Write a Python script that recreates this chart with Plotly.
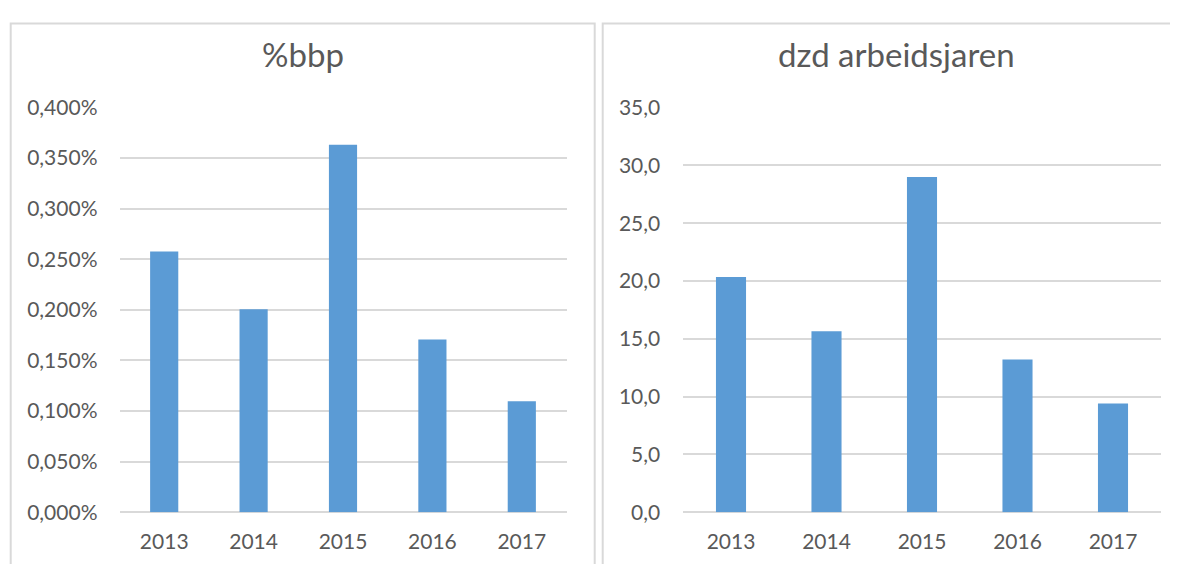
import plotly.graph_objects as go

years = ["2013", "2014", "2015", "2016", "2017"]
bbp_pct = [0.2577, 0.2006, 0.3633, 0.1708, 0.1096]
dzd_arbeidsjaren = [20.35, 15.65, 28.99, 13.2, 9.39]

# page body has an 8px margin; vertical placement was calibrated on the photo
OFF = 8
W, H = 1178 - 2 * OFF, 570
VS, VO = 0.955, 13.5
bar_color = "#5b9bd5"
text_color = "#595959"
grid_color = "#d9d9d9"
font_family = "Lato, 'Open Sans', sans-serif"

# helpers: target pixel in the picture -> paper coordinate
def px_x(v):
    return (v - OFF) / W

def px_y(v):
    fy = (v - VO) / VS - OFF
    return (H - fy) / H

fig = go.Figure()
fig.add_trace(go.Bar(x=years, y=bbp_pct, marker_color=bar_color,
                     marker_line_width=0, xaxis="x", yaxis="y", showlegend=False))
fig.add_trace(go.Bar(x=years, y=dzd_arbeidsjaren, marker_color=bar_color,
                     marker_line_width=0, xaxis="x2", yaxis="y2", showlegend=False))

ydom = [px_y(510.7), px_y(106.6)]
axis_font = dict(family=font_family, size=21, color=text_color)

fig.update_layout(
    width=W, height=H,
    margin=dict(l=0, r=0, t=0, b=0),
    paper_bgcolor="white", plot_bgcolor="white",
    separators=",.",
    bargap=0.685,
    font=dict(family=font_family, color=text_color),
    xaxis=dict(domain=[px_x(119.5), px_x(566.5)], anchor="y",
               showgrid=False, showline=False, ticks="", tickfont=axis_font,
               ticklabelstandoff=15),
    yaxis=dict(domain=ydom, anchor="x", range=[0, 0.4], dtick=0.05,
               tickformat=".3f", ticksuffix="%", showgrid=True,
               gridcolor=grid_color, gridwidth=1.5, zeroline=True,
               zerolinecolor=grid_color, zerolinewidth=1.5, showline=False,
               ticks="", tickfont=axis_font, ticklabelstandoff=21),
    xaxis2=dict(domain=[px_x(683.25), px_x(1160.75)], anchor="y2",
                showgrid=False, showline=False, ticks="", tickfont=axis_font,
                ticklabelstandoff=15),
    yaxis2=dict(domain=ydom, anchor="x2", range=[0, 35], dtick=5,
                tickformat=".1f", showgrid=True, gridcolor=grid_color,
                gridwidth=1.5, zeroline=True, zerolinecolor=grid_color,
                zerolinewidth=1.5, showline=False, ticks="", tickfont=axis_font,
                ticklabelstandoff=22),
)

# chart area borders (top edge kept just inside the figure)
border = dict(color=grid_color, width=2)
top = 1 - 1.5 / H
fig.add_shape(type="rect", xref="paper", yref="paper",
              x0=px_x(10.7), x1=px_x(594.7), y0=-0.2, y1=top,
              line=border, layer="below")
fig.add_shape(type="rect", xref="paper", yref="paper",
              x0=px_x(602.7), x1=px_x(1200), y0=-0.2, y1=top,
              line=border, layer="below")

title_font = dict(family=font_family, size=33, color=text_color)
fig.add_annotation(text="%bbp", xref="paper", yref="paper",
                   x=px_x(302.7), y=px_y(53), showarrow=False,
                   xanchor="center", yanchor="middle", font=title_font)
fig.add_annotation(text="dzd arbeidsjaren", xref="paper", yref="paper",
                   x=px_x(896), y=px_y(53), showarrow=False,
                   xanchor="center", yanchor="middle", font=title_font)

fig.write_html("out.html")
